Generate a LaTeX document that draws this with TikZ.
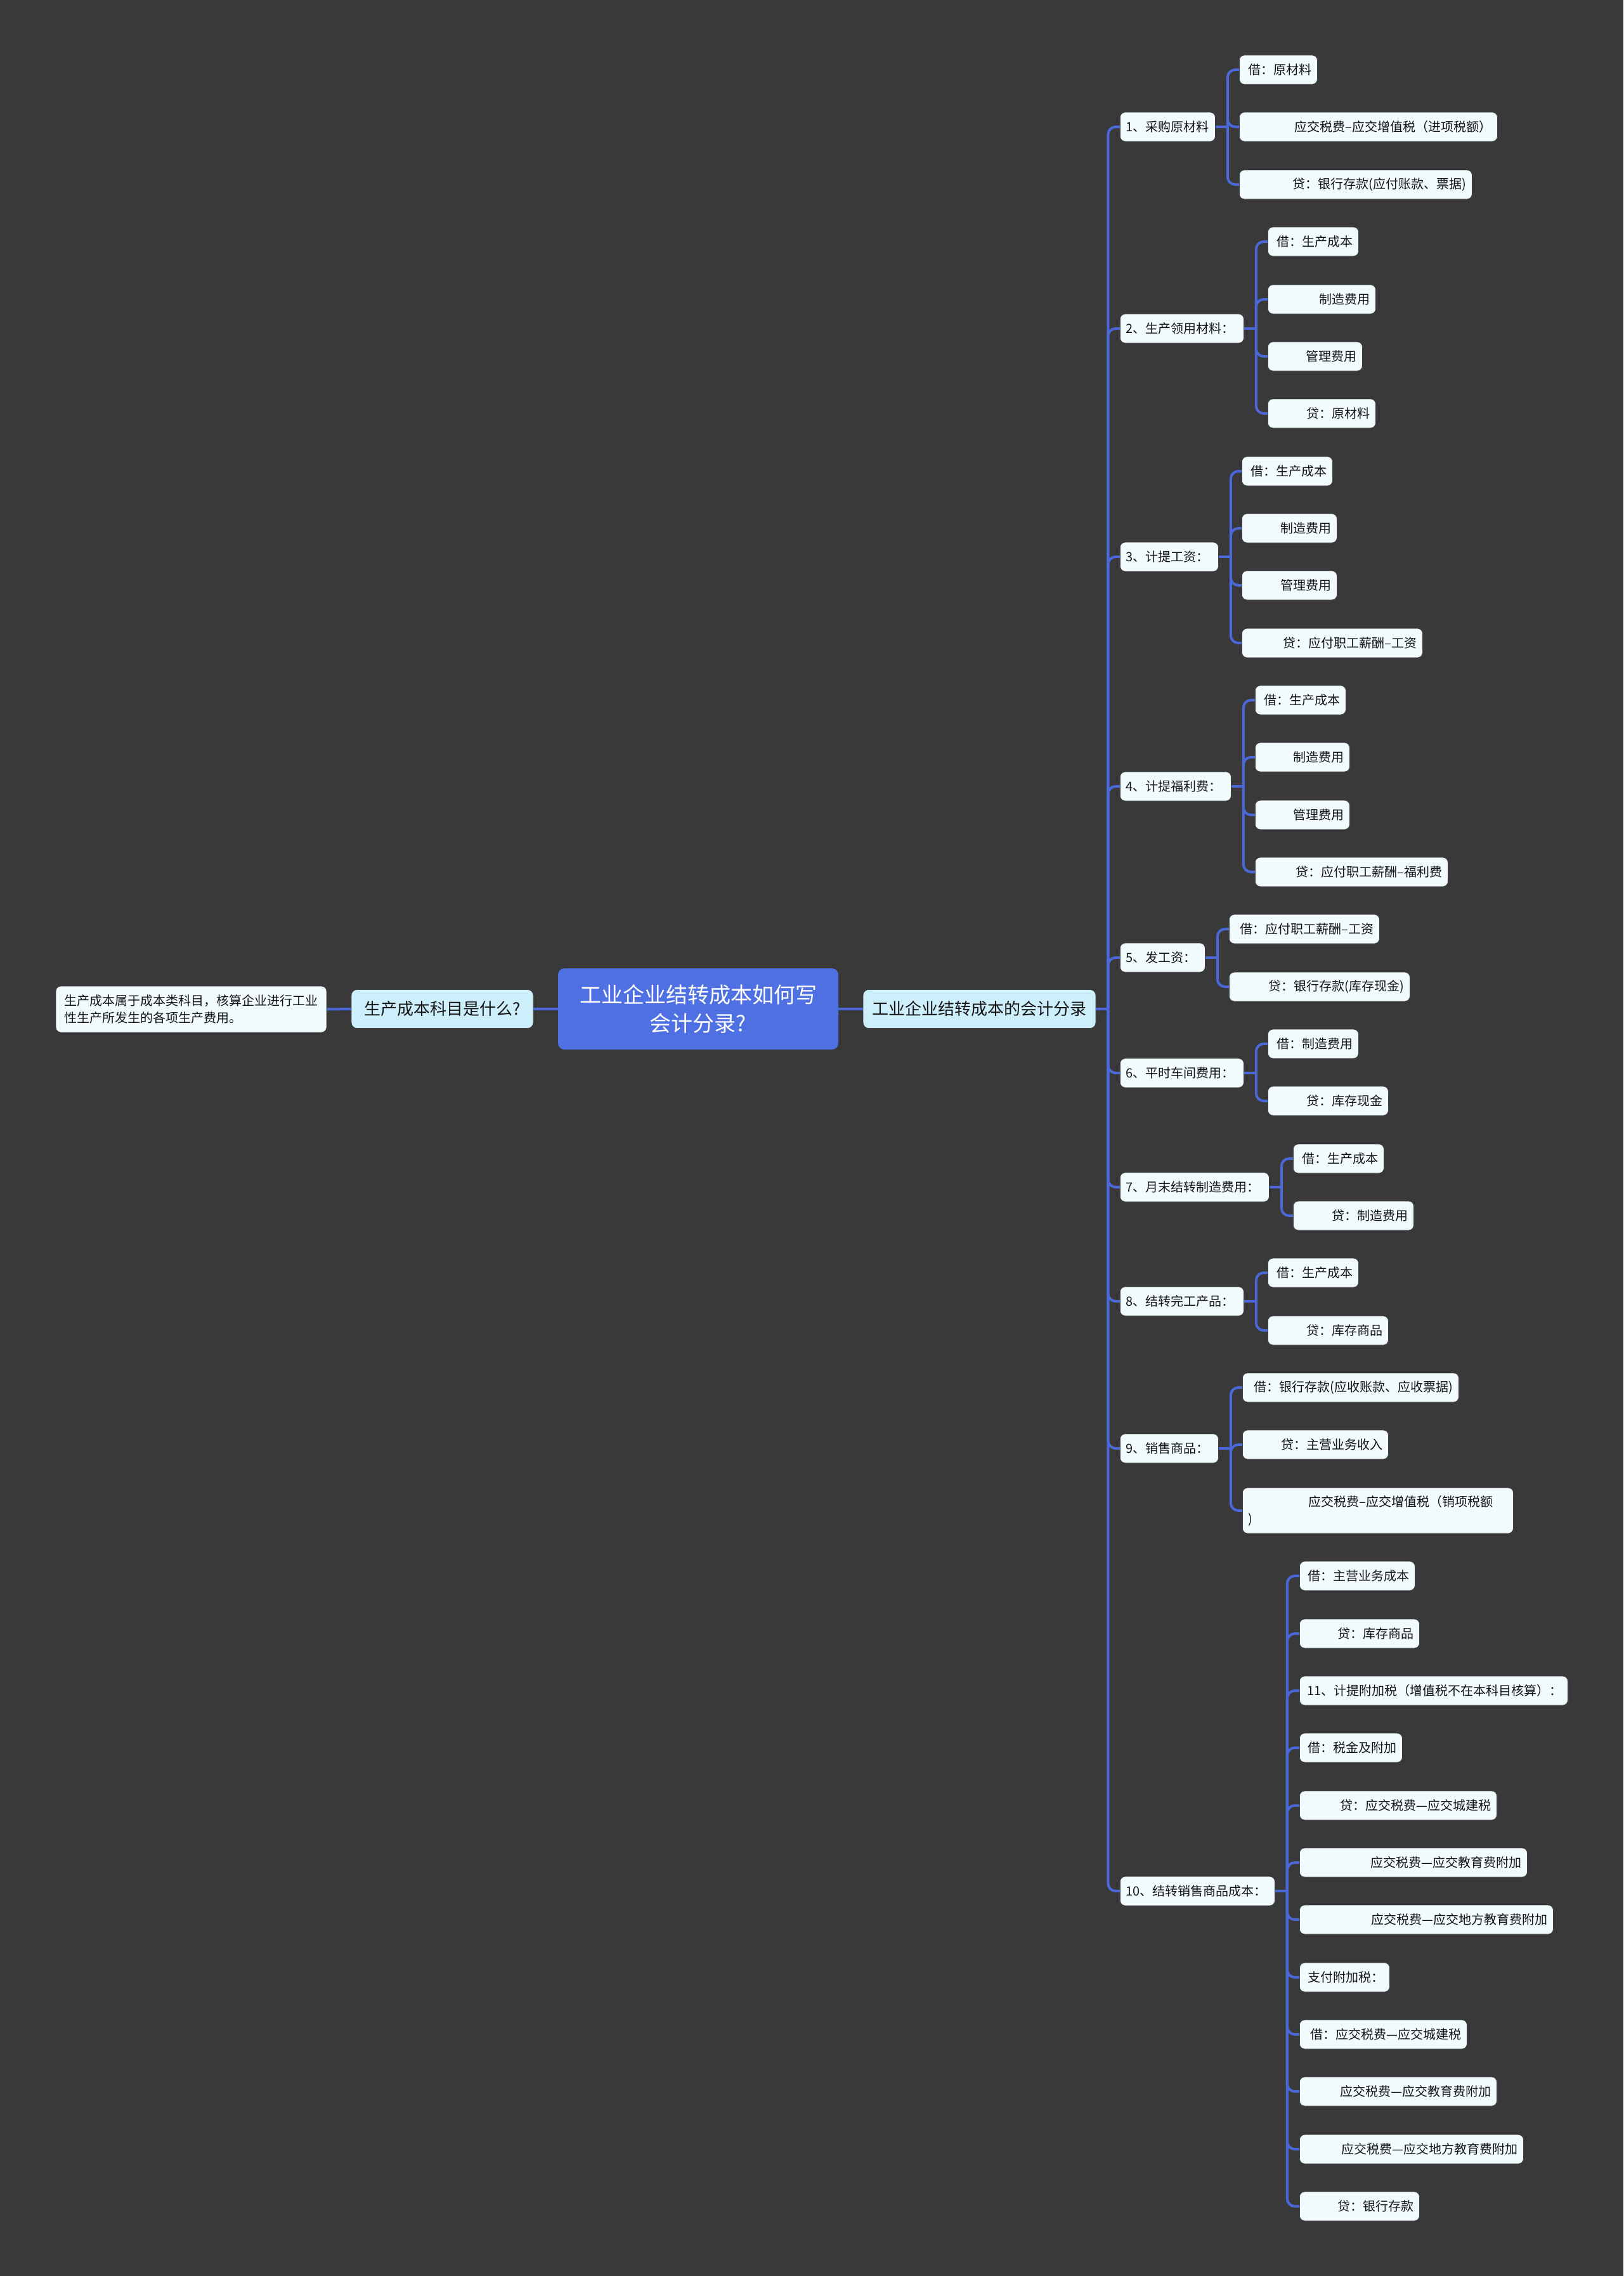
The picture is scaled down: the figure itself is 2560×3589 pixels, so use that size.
\documentclass[tikz,border=0pt]{standalone}
\usepackage{fontspec}
\setmainfont{Noto Sans CJK SC}
\definecolor{bg}{RGB}{58,57,58}
\definecolor{conn}{RGB}{74,104,216}
\definecolor{leaffill}{RGB}{241,251,253}
\definecolor{rootfill}{RGB}{78,112,226}
\definecolor{secfill}{RGB}{205,239,251}
\definecolor{txt}{RGB}{20,20,20}
\tikzset{
  box/.style={rectangle, rounded corners=8pt, draw=black!75, line width=0.8pt, fill=leaffill,
    text=txt, minimum height=46pt, inner xsep=9pt, inner ysep=0pt,
    font=\fontsize{20}{27}\selectfont, anchor=west},
  leafbox/.style={box, align=right},
  lvlbox/.style={box, align=left},
  secbox/.style={rectangle, rounded corners=9pt, draw=black!75, line width=0.8pt, fill=secfill,
    text=txt, minimum height=61pt, inner sep=0pt, font=\fontsize{26}{32}\selectfont},
  rootbox/.style={rectangle, rounded corners=10pt, fill=rootfill, text=white,
    minimum height=128pt, minimum width=442pt, inner sep=0pt, align=center,
    font=\fontsize{34}{45}\selectfont},
  cn/.style={draw=conn, line width=4pt},
  cnr/.style={cn, rounded corners=12pt}
}
\newcommand\mynode[6]{%
  \pgfmathsetmacro\tw{#5-#3-18}%
  \node[#1, text width=\tw pt] (#2) at (#3,#4) {#6};}
\begin{document}
\begin{tikzpicture}[x=1pt,y=-1pt]
\fill[bg] (0,0) rectangle (2560,3589);
\useasboundingbox (0,0) rectangle (2560,3589);

% center
\node[rootbox] (root) at (1101,1591) {工业企业结转成本如何写\\会计分录?};
\node[secbox, minimum width=367pt] (main) at (1544.5,1591) {工业企业结转成本的会计分录};
\node[secbox, minimum width=287pt] (q) at (697.5,1591) {生产成本科目是什么?};
\node[box, anchor=center, fill=leaffill, minimum width=427pt, minimum height=73pt, align=left]
  (ans) at (301.5,1591.5) {生产成本属于成本类科目，核算企业进行工业\\性生产所发生的各项生产费用。};
\draw[cn] (root.east) -- (main.west);
\draw[cn] (root.west) -- (q.east);
\draw[cn] (q.west) -- (ans.east);

% level 1
\mynode{lvlbox}{g1}{1766}{200}{1916}{1、采购原材料}
\mynode{lvlbox}{g2}{1766}{518}{1961}{2、生产领用材料：}
\mynode{lvlbox}{g3}{1766}{878}{1921}{3、计提工资：}
\mynode{lvlbox}{g4}{1766}{1240}{1941}{4、计提福利费：}
\mynode{lvlbox}{g5}{1766}{1510}{1900}{5、发工资：}
\mynode{lvlbox}{g6}{1766}{1692}{1961}{6、平时车间费用：}
\mynode{lvlbox}{g7}{1766}{1872}{2001}{7、月末结转制造费用：}
\mynode{lvlbox}{g8}{1766}{2052}{1961}{8、结转完工产品：}
\mynode{lvlbox}{g9}{1766}{2284}{1921}{9、销售商品：}
\mynode{lvlbox}{g10}{1766}{2982}{2010}{10、结转销售商品成本：}

\coordinate (tr) at ([xshift=19pt]main.east);
\draw[cn] (main.east) -- (tr);
\foreach \g in {g1,g2,g3,g4,g5,g6,g7,g8,g9,g10}{
  \draw[cnr] (tr) |- (\g.west);
}
\foreach \g in {g1,g2,g3,g4,g5,g6,g7,g8,g9,g10}{
  \coordinate (b\g) at ([xshift=19pt]\g.east);
  \draw[cn] (\g.east) -- (b\g);
}

% group 1
\mynode{leafbox}{g1a}{1954}{110}{2077}{借：原材料}
\mynode{leafbox}{g1b}{1954}{200}{2361}{应交税费–应交增值税（进项税额）}
\mynode{leafbox}{g1c}{1954}{291}{2321}{贷：银行存款(应付账款、票据)}
\foreach \c in {g1a,g1b,g1c}{\draw[cnr] (bg1) |- (\c.west);}

% group 2
\mynode{leafbox}{g2a}{1999}{381}{2142}{借：生产成本}
\mynode{leafbox}{g2b}{1999}{472}{2169}{制造费用}
\mynode{leafbox}{g2c}{1999}{562}{2148}{管理费用}
\mynode{leafbox}{g2d}{1999}{652}{2169}{贷：原材料}
\foreach \c in {g2a,g2b,g2c,g2d}{\draw[cnr] (bg2) |- (\c.west);}

% group 3
\mynode{leafbox}{g3a}{1958}{743}{2101}{借：生产成本}
\mynode{leafbox}{g3b}{1958}{833}{2108}{制造费用}
\mynode{leafbox}{g3c}{1958}{923}{2108}{管理费用}
\mynode{leafbox}{g3d}{1958}{1014}{2243}{贷：应付职工薪酬–工资}
\foreach \c in {g3a,g3b,g3c,g3d}{\draw[cnr] (bg3) |- (\c.west);}

% group 4
\mynode{leafbox}{g4a}{1979}{1104}{2122}{借：生产成本}
\mynode{leafbox}{g4b}{1979}{1194}{2128}{制造费用}
\mynode{leafbox}{g4c}{1979}{1285}{2128}{管理费用}
\mynode{leafbox}{g4d}{1979}{1375}{2283}{贷：应付职工薪酬–福利费}
\foreach \c in {g4a,g4b,g4c,g4d}{\draw[cnr] (bg4) |- (\c.west);}

% group 5
\mynode{leafbox}{g5a}{1938}{1465}{2175}{借：应付职工薪酬–工资}
\mynode{leafbox}{g5b}{1938}{1556}{2223}{贷：银行存款(库存现金)}
\foreach \c in {g5a,g5b}{\draw[cnr] (bg5) |- (\c.west);}

% group 6
\mynode{leafbox}{g6a}{1999}{1646}{2142}{借：制造费用}
\mynode{leafbox}{g6b}{1999}{1736}{2189}{贷：库存现金}
\foreach \c in {g6a,g6b}{\draw[cnr] (bg6) |- (\c.west);}

% group 7
\mynode{leafbox}{g7a}{2039}{1827}{2182}{借：生产成本}
\mynode{leafbox}{g7b}{2039}{1917}{2229}{贷：制造费用}
\foreach \c in {g7a,g7b}{\draw[cnr] (bg7) |- (\c.west);}

% group 8
\mynode{leafbox}{g8a}{1999}{2007}{2142}{借：生产成本}
\mynode{leafbox}{g8b}{1999}{2098}{2189}{贷：库存商品}
\foreach \c in {g8a,g8b}{\draw[cnr] (bg8) |- (\c.west);}

% group 9
\mynode{leafbox}{g9a}{1959}{2188}{2300}{借：银行存款(应收账款、应收票据)}
\mynode{leafbox}{g9b}{1959}{2278}{2189}{贷：主营业务收入}
\node[box, align=left, text width=409pt, minimum height=72pt] (g9c) at (1959,2382)
  {\hspace*{95pt}应交税费–应交增值税（销项税额\\)};
\foreach \c in {g9a,g9b,g9c}{\draw[cnr] (bg9) |- (\c.west);}

% group 10
\mynode{leafbox}{g10a}{2049}{2485}{2231}{借：主营业务成本}
\mynode{leafbox}{g10b}{2049}{2576}{2238}{贷：库存商品}
\mynode{leafbox}{g10c}{2049}{2666}{2472}{11、计提附加税（增值税不在本科目核算）：}
\mynode{leafbox}{g10d}{2049}{2756}{2211}{借：税金及附加}
\mynode{leafbox}{g10e}{2049}{2847}{2360}{贷：应交税费—应交城建税}
\mynode{leafbox}{g10f}{2049}{2937}{2408}{应交税费—应交教育费附加}
\mynode{leafbox}{g10g}{2049}{3027}{2449}{应交税费—应交地方教育费附加}
\mynode{leafbox}{g10h}{2049}{3118}{2191}{支付附加税：}
\mynode{leafbox}{g10i}{2049}{3208}{2313}{借：应交税费—应交城建税}
\mynode{leafbox}{g10j}{2049}{3298}{2360}{应交税费—应交教育费附加}
\mynode{leafbox}{g10k}{2049}{3389}{2402}{应交税费—应交地方教育费附加}
\mynode{leafbox}{g10l}{2049}{3479}{2238}{贷：银行存款}
\foreach \c in {g10a,g10b,g10c,g10d,g10e,g10f,g10g,g10h,g10i,g10j,g10k,g10l}{\draw[cnr] (bg10) |- (\c.west);}
\end{tikzpicture}
\end{document}
